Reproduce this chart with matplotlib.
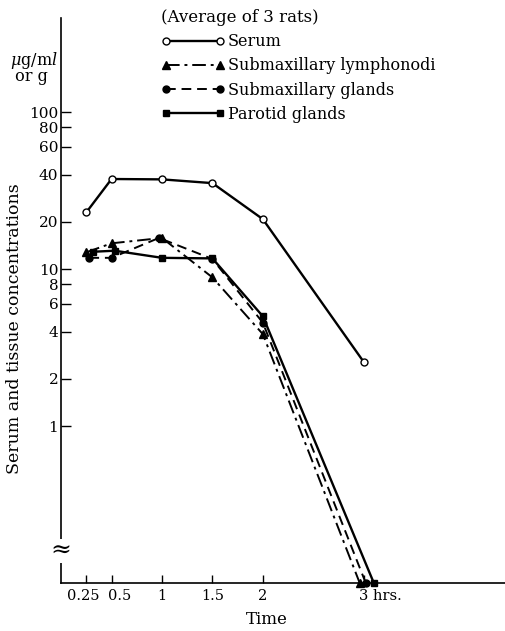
import matplotlib
matplotlib.use("Agg")
import matplotlib.pyplot as plt
import matplotlib.transforms as mtransforms
import numpy as np

plt.rcParams['font.family'] = ['DejaVu Serif']
plt.rcParams['mathtext.fontset'] = 'dejavuserif'

# Data (hours, concentration in ug/ml or g); 0 = below detection (drawn on the axis floor)
t_serum = [0.25, 0.5, 1.0, 1.5, 2.0, 3.0]
serum = [23.0, 37.5, 37.3, 35.3, 20.8, 2.56]

t_lymph = [0.25, 0.5, 1.0, 1.5, 2.0, 2.96]
lymph = [12.8, 14.6, 15.8, 8.85, 3.85, 0]

t_submax = [0.28, 0.5, 0.97, 1.5, 2.0, 3.02]
submax = [11.8, 11.8, 15.8, 11.6, 4.55, 0]

t_parotid = [0.32, 0.53, 1.0, 1.5, 2.0, 3.1]
parotid = [12.9, 13.1, 11.8, 11.7, 5.0, 0]

yticks = [1, 2, 4, 6, 8, 10, 20, 40, 60, 80, 100]
ytick_labels = ["1", "2", "4", "6", "8", "10", "20", "40", "60", "80", "100"]
xticks = [0.25, 0.5, 1, 1.5, 2, 3]
xtick_labels = ["0.25", "0.5", "1", "1.5", "2", "3 hrs."]

FLOOR = 0.1

def floor(v):
    return [x if x > 0 else FLOOR for x in v]

fig = plt.figure(figsize=(5.05, 6.31), dpi=100)
ax = fig.add_axes([0.121, 0.076, 0.879, 0.8955])
ax.set_yscale('log')
ax.set_ylim(FLOOR, 398)
ax.set_xlim(0, 4.4)

lw = 1.7
ms = 5
ax.plot(t_serum, floor(serum), '-', color='black', lw=lw, marker='o', ms=ms,
        mfc='white', mec='black', mew=1.0, label='Serum', clip_on=False)
ax.plot(t_lymph, floor(lymph), '-.', color='black', lw=1.4, marker='^', ms=ms+1,
        mfc='black', mec='black', label='Submaxillary lymphonodi', clip_on=False,
        dashes=(7, 2.5, 1.5, 2.5))
ax.plot(t_submax, floor(submax), '--', color='black', lw=1.4, marker='o', ms=ms,
        mfc='black', mec='black', label='Submaxillary glands', clip_on=False,
        dashes=(5, 3))
ax.plot(t_parotid, floor(parotid), '-', color='black', lw=lw, marker='s', ms=ms,
        mfc='black', mec='black', label='Parotid glands', clip_on=False)

for s in ['top', 'right']:
    ax.spines[s].set_visible(False)
ax.spines['left'].set_linewidth(1.2)
ax.spines['bottom'].set_linewidth(1.2)

ax.set_yticks(yticks)
ax.set_yticklabels(ytick_labels)
ax.yaxis.set_minor_locator(matplotlib.ticker.NullLocator())
ax.tick_params(axis='y', direction='in', length=7, width=1.0, labelsize=11, pad=2)

ax.set_xticks(xticks)
ax.set_xticklabels(xtick_labels)
ax.tick_params(axis='x', direction='in', length=6, width=1.0, labelsize=10.5, pad=4)

# nudge crowded x tick labels like the original
shifts = {"0.25": -3, "0.5": 8, "3 hrs.": 0}
for lab in ax.get_xticklabels():
    txt = lab.get_text()
    if txt == "3 hrs.":
        lab.set_ha('left')
        dx = -5
    else:
        dx = shifts.get(txt, 0)
    lab.set_transform(lab.get_transform() +
                      mtransforms.ScaledTranslation(dx / 100, 0, fig.dpi_scale_trans))

ax.set_xlabel('Time', fontsize=12)
ax.xaxis.set_label_coords(0.463, -0.05)
ax.set_ylabel('Serum and tissue concentrations', fontsize=12.5)
ax.yaxis.set_label_coords(-0.085, 0.45)

# unit label
fig.text(0.02, 0.893, r'$\mu$g/m$l$' + '\n or g', fontsize=11.5, ha='left', va='center',
         linespacing=0.8)

# axis break
ax.text(0.0, 0.057, '≈', transform=ax.transAxes, fontsize=18, ha='center', va='center',
        rotation=0, bbox=dict(facecolor='white', edgecolor='none', pad=0.5))

leg = ax.legend(loc='upper left', bbox_to_anchor=(0.225, 1.016), frameon=False,
                numpoints=2, handlelength=4.0, handletextpad=0.2, labelspacing=0.45,
                fontsize=11.5, title='(Average of 3 rats)', title_fontsize=12,
                alignment='left', borderaxespad=0.0, borderpad=0.0)

fig.savefig('out.png', dpi=100)
